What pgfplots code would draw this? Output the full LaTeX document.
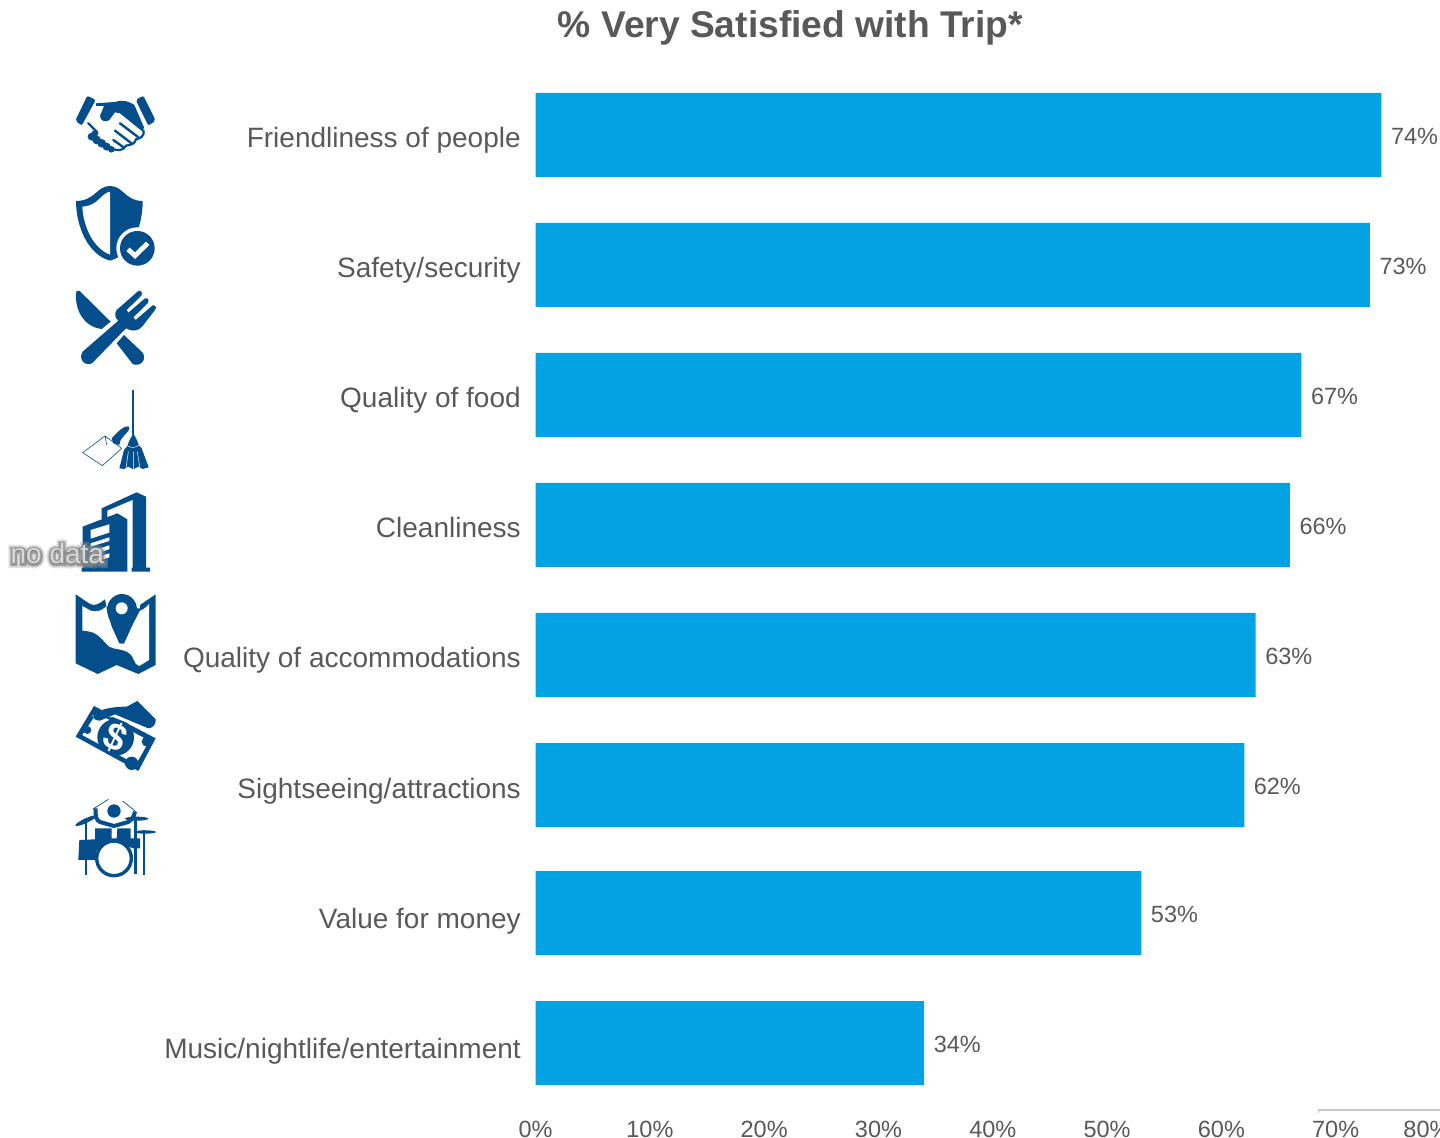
\documentclass[border=0pt]{standalone}
\usepackage{pgfplots}
\pgfplotsset{compat=1.18}
\usepackage{fontspec}
\setmainfont{Liberation Sans}
\newfontface\softa{Liberation Sans}[FakeBold=30]
\newfontface\softb{Liberation Sans}[FakeBold=16]
\definecolor{barblue}{HTML}{02A2E3}
\definecolor{icon}{HTML}{034E8B}
\definecolor{txt}{HTML}{595959}
% one unit of these scopes is a third of a pixel at the final 2x output
\tikzset{
  upper/.style={x=0.166667pt,y=-0.166667pt,shift={(0pt,529pt)}},
  lower/.style={x=0.166667pt,y=-0.166667pt,shift={(0pt,329pt)}}
}
\begin{document}
\begin{tikzpicture}
\path[use as bounding box,clip] (0,0) rectangle (720pt,569pt);

\begin{axis}[
  at={(267.8pt,19pt)},anchor=south west,
  scale only axis,width=457.2pt,height=520pt,
  xmin=0,xmax=80,ymin=60,ymax=1100,y dir=reverse,
  clip=false,
  axis line style={draw=none},
  tick style={draw=none},
  xtick={0,10,...,80},
  xticklabels={0\%,10\%,20\%,30\%,40\%,50\%,60\%,70\%,\hspace*{-23pt}80\%},
  xticklabel style={font=\fontsize{11.75}{14}\selectfont,text=txt,inner sep=0pt,yshift=-10.2pt},
  ytick={138,268,398,528,658,788,918,1048},
  yticklabels={Friendliness of people,Safety/security,Quality of food,Cleanliness,Quality of accommodations,Sightseeing/attractions,Value for money,Music/nightlife/entertainment},
  yticklabel style={font=\fontsize{14}{17}\selectfont,text=txt,xshift=-3.9pt,text height=10pt,text depth=0pt},
  point meta=explicit symbolic,
  nodes near coords,
  every node near coord/.append style={font=\fontsize{11.75}{14}\selectfont,text=txt,anchor=west,inner sep=0pt,xshift=4.6pt,yshift=-0.5pt},
]
\addplot[xbar,bar shift=0pt,bar width=42pt,fill=barblue,draw=none] coordinates {
  (74,135) [74\%]
  (73,265) [73\%]
  (67,395) [67\%]
  (66,525) [66\%]
  (63,655) [63\%]
  (62,785) [62\%]
  (53,913) [53\%]
  (34,1043) [34\%]
};
\end{axis}

% short leftover rule at the lower right
\draw[draw=black!22,line width=0.7pt] (659.3pt,12.5pt)--(659.3pt,14pt)--(720pt,14pt);

% title
\node[font=\fontsize{18.6}{22}\selectfont\bfseries,text=txt] at (395.2pt,555.2pt) {\% Very Satisfied with Trip*};

% handshake
\begin{scope}[upper]
\fill[icon,rounded corners=1pt] (262,47)--(287,60)--(245,137)--(226,122)--cycle;
\fill[icon,rounded corners=1pt] (430,47)--(407,60)--(445,137)--(467,122)--cycle;
\fill[icon] (288,70)--(345,66)..controls(360,60)and(380,60)..(403,75)--(432,142)--(428,155)--(360,100)--(345,97)--(328,120)..controls(318,128)and(302,125)..(300,108)--(312,78)--(288,78)--cycle;
\draw[icon,line width=1.2pt,line cap=round] (360,130)--(415,172) (345,152)--(397,192) (340,180)--(372,203);
\draw[icon,line width=1.1pt] (430,150)..controls(435,170)and(420,175)..(408,178)..controls(405,195)and(385,195)..(378,197)..controls(370,212)and(355,212)..(340,208);
\draw[icon,line width=1.2pt,line cap=round] (265,130)--(292,157);
\fill[icon] (275,170) circle (12) (290,180) circle (13) (305,190) circle (13) (320,200) circle (12) (334,208) circle (10) (285,160) circle (10);
\end{scope}

% shield with tick
\begin{scope}[upper]
\fill[icon] (330,318)..controls(290,318)and(285,363)..(228,363)..controls(228,440)and(265,525)..(330,542)..controls(395,525)and(428,440)..(428,363)..controls(375,363)and(370,318)..(330,318)--cycle;
\fill[white] (330,335)..controls(302,340)and(295,378)..(247,380)..controls(250,440)and(280,505)..(330,524)--cycle;
\fill[white] (412,505) circle (63);
\fill[icon] (412,505) circle (52);
\draw[white,line width=2.4pt] (384,508)--(405,527)--(443,490);
\end{scope}

% knife and fork
\begin{scope}[upper]
\fill[icon] (228,640)..controls(228,630)and(238,630)..(243,637)--(332,725)--(305,747)..controls(250,740)and(225,690)..(228,640)--cycle;
\fill[icon] (372,765)--(428,818)..controls(442,840)and(420,862)..(398,852)--(350,790)--cycle;
\fill[icon] (350,690)--(415,633)..controls(425,630)and(428,640)..(424,647)--(380,690)--(385,698)--(435,655)..controls(445,652)and(448,662)..(443,670)--(400,712)--(407,720)--(458,676)..controls(468,675)and(470,683)..(465,690)--(428,738)..controls(415,755)and(395,755)..(378,745)--(278,848)..controls(260,862)and(232,840)..(248,815)--(355,722)..controls(345,715)and(342,700)..(350,690)--cycle;
\end{scope}

% broom and dustpan
\begin{scope}[upper]
\fill[icon] (397,930) rectangle (403,1065);
\fill[icon] (400,1060)..controls(392,1075)and(385,1085)..(383,1097)--(372,1110)--(358,1165)--(372,1167)--(385,1160)--(400,1168)--(415,1160)--(428,1167)--(446,1162)--(425,1105)--(416,1095)..controls(414,1085)and(408,1075)..(400,1060)--cycle;
\draw[white,line width=0.25pt] (383,1098)..controls(395,1104)and(405,1104)..(416,1096) (378,1165)--(385,1115) (400,1168)--(400,1115) (420,1165)--(412,1115);
\draw[icon,line width=0.3pt,line join=round] (248,1118)--(315,1068)--(365,1105)--(307,1157)--cycle (315,1068)--(320,1095);
\fill[icon] (335,1075)..controls(350,1060)and(370,1035)..(388,1040)..controls(393,1052)and(370,1065)..(362,1080)--(358,1095)--(340,1090)--cycle;
\end{scope}

% office buildings
\begin{scope}[lower]
\fill[icon] (305,85)--(410,37)--(438,50)--(438,263)--(450,263)--(450,275)--(395,275)--(395,90)--(322,118)--(305,118)--cycle;
\fill[white] (322,92)--(398,60)--(398,263)--(384,263)--(384,118)--(355,103)--(322,115)--cycle;
\fill[icon] (248,140)--(352,100)--(382,118)--(382,275)--(245,275)--(245,265)--(248,262)--cycle;
\fill[white] (272,150)--(328,133)--(328,158)--(272,176)--cycle;
\fill[white] (272,190)--(328,172)--(328,183)--(272,200)--cycle;
\fill[white] (272,214)--(328,196)--(328,208)--(272,225)--cycle;
\fill[white] (272,238)--(328,220)--(328,232)--(272,250)--cycle;
\end{scope}

% folded map with pin
\begin{scope}[lower]
\fill[icon] (227,343)--(270,372)..controls(285,380)and(300,370)..(315,358)--(320,385)--(420,385)--(420,375)--(467,343)--(467,555)--(415,582)--(350,555)--(293,582)--(227,550)--cycle;
\fill[white] (247,378)--(272,392)..controls(290,397)and(305,392)..(318,380)--(335,440)--(358,490)--(372,490)--(395,440)--(420,392)..controls(430,390)and(440,380)..(447,372)--(447,540)--(418,558)..controls(400,555)and(405,530)..(385,518)..controls(365,505)and(345,510)..(328,500)..controls(310,485)and(305,470)..(280,458)..controls(270,455)and(258,452)..(247,452)--cycle;
\fill[icon] (358,490)--(325,410)..controls(310,370)and(340,342)..(365,342)..controls(395,342)and(420,370)..(408,410)--(372,490)--cycle;
\fill[white] (365,385) circle (18);
\end{scope}

% banknote under a hand
\begin{scope}[lower]
\fill[icon] (282,678)--(467,775)--(415,873)--(227,770)--cycle;
\fill[white] (290,700)--(448,782)--(408,853)--(247,765)--cycle;
\fill[icon] (262,750) circle (12) (395,850) circle (20) (440,785) circle (15) (285,700) circle (8);
\fill[icon] (347,772) circle (55);
\node[white,font=\bfseries\fontsize{19}{19}\selectfont,rotate=-25] at (347,772) {\$};
\draw[white,line width=1.1pt] (278,708)--(340,708)--(445,750);
\fill[icon] (280,705)..controls(300,685)and(345,680)..(380,680)--(412,663)--(467,718)..controls(470,735)and(455,745)..(445,745)--(345,703)--(300,722)..controls(285,722)and(278,715)..(280,705)--cycle;
\end{scope}

% drummer
\begin{scope}[lower]
\fill[icon] (342,993) circle (20);
\draw[icon,line width=2pt,line join=round] (287,985)..controls(285,1010)and(290,1022)..(300,1026)--(342,1038)--(385,1026)..controls(395,1020)and(402,1010)..(405,995);
\draw[icon,line width=0.35pt] (278,988)--(325,958) (368,963)--(408,995);
\fill[icon,rotate around={25:(258,1022)}] (258,1022) ellipse (35 and 7);
\fill[icon] (410,1016) ellipse (35 and 6);
\fill[icon] (435,1056) ellipse (33 and 5);
\fill[icon] (285,1045)--(335,1045)--(335,1075)--(350,1075)--(352,1045)--(392,1045)--(392,1075)--(420,1075)--(420,1105)--(400,1105)--(340,1085)--(290,1110)--(290,1140)--(235,1140)--(238,1080)--(285,1078)--cycle;
\fill[white] (342,1135) circle (55);
\draw[icon,line width=1.7pt] (342,1135) circle (52);
\fill[icon] (255,1030) rectangle (262,1185);
\fill[icon] (403,1020) rectangle (411,1182);
\fill[icon] (428,1050) rectangle (436,1185);
\end{scope}

% soft caption laid over the buildings
\begin{scope}[lower]
\node[text=black!35,opacity=0.35,font=\softa\fontsize{14}{16}\selectfont] at (172,222) {no data};
\node[text=black!50,opacity=0.7,font=\softb\fontsize{14}{16}\selectfont] at (172,222) {no data};
\node[text=white!85!black,font=\fontsize{14}{16}\selectfont] at (172,222) {no data};
\end{scope}
\end{tikzpicture}
\end{document}
